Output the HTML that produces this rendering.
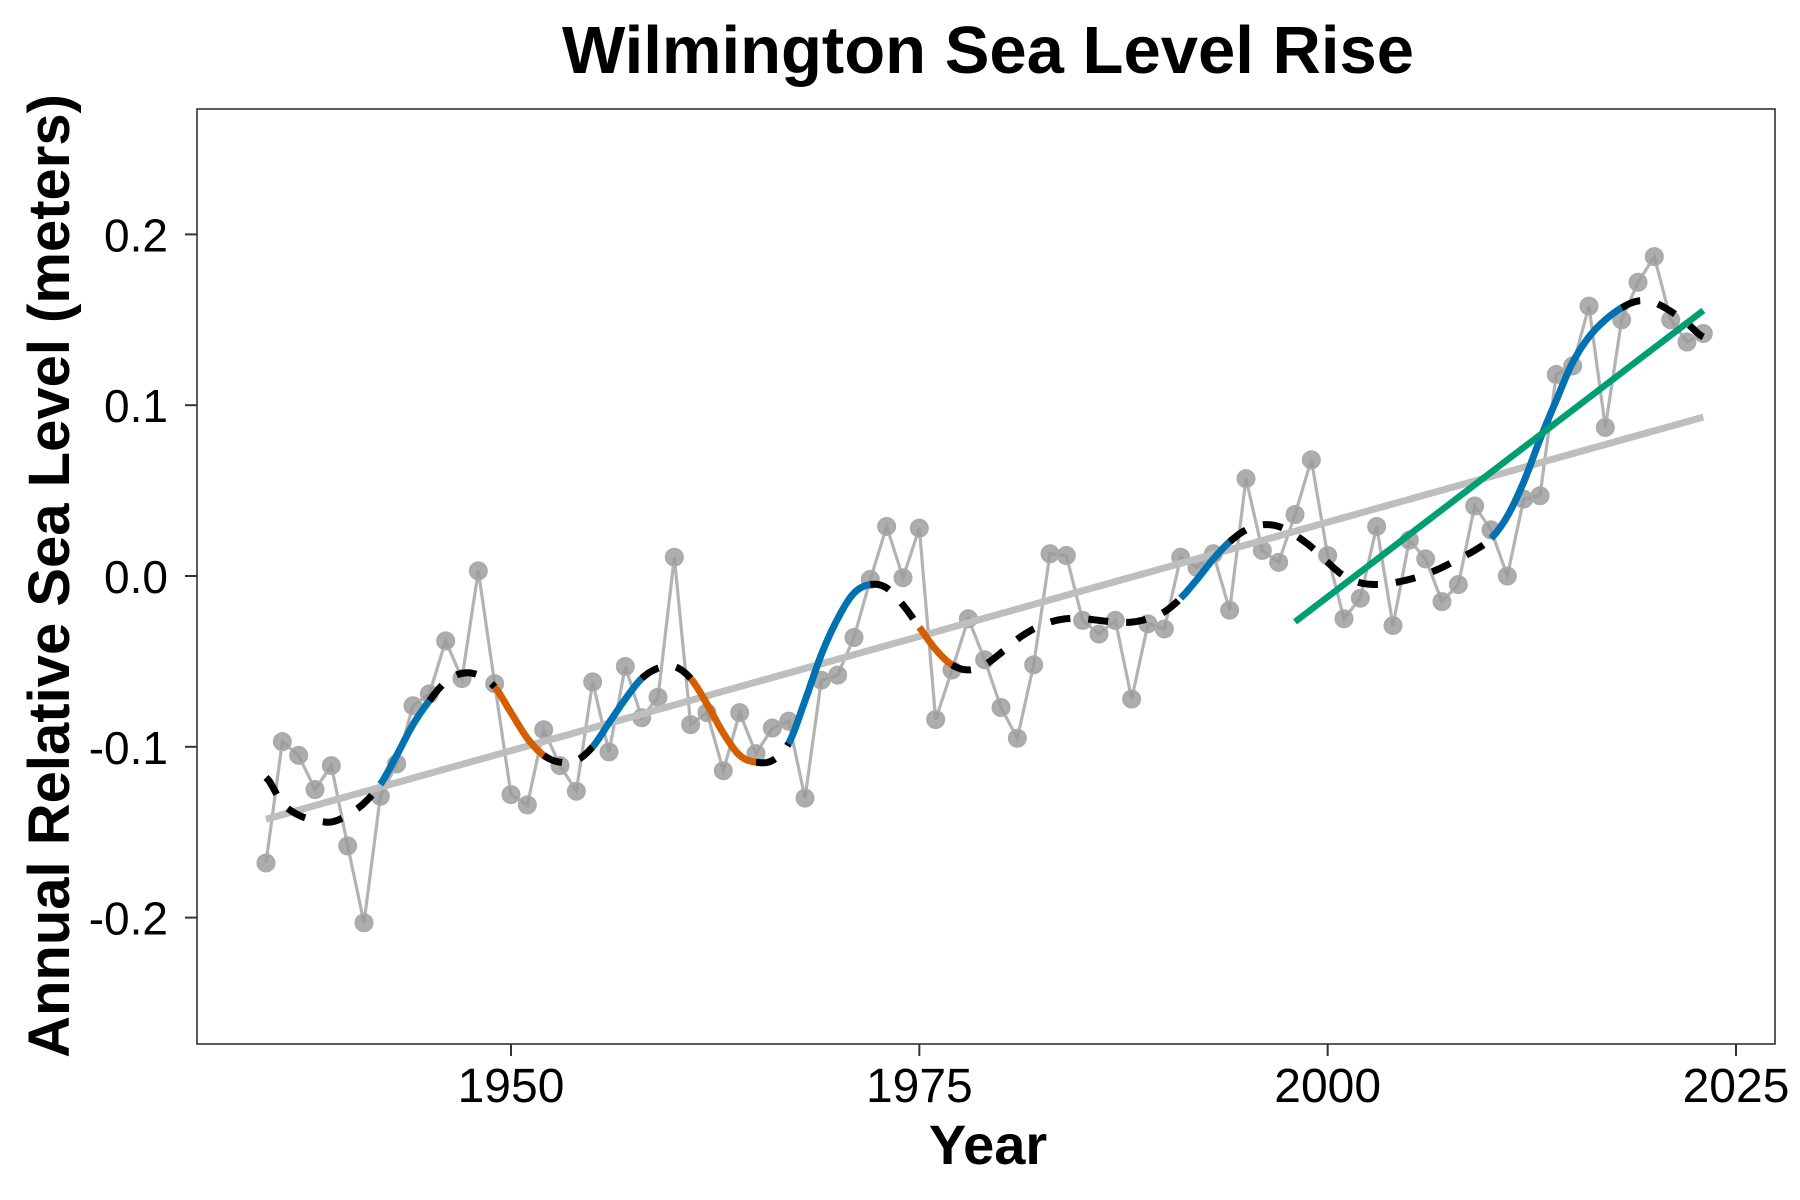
<!DOCTYPE html>
<html><head><meta charset="utf-8">
<style>
html,body{margin:0;padding:0;background:#fff;}
svg{display:block;font-family:"Liberation Sans",Arial,sans-serif;}
</style></head>
<body>
<svg id="chart" width="1800" height="1200" viewBox="0 0 1800 1200">
  <text x="988" y="73" text-anchor="middle" font-size="67" font-weight="bold">Wilmington Sea Level Rise</text>
  <rect x="197" y="109" width="1578" height="935" fill="none" stroke="#333" stroke-width="1.6"/>
  <g id="axes"></g>
  <g id="marks"></g>
  <text x="988" y="1164" text-anchor="middle" font-size="56" font-weight="bold">Year</text>
  <text transform="translate(69,576) rotate(-90)" text-anchor="middle" font-size="58" font-weight="bold">Annual Relative Sea Level (meters)</text>
</svg>
<script>
const years = [];
for (let y = 1935; y <= 2023; y++) years.push(y);
const seaLevel = [-0.168,-0.097,-0.105,-0.125,-0.111,-0.158,-0.203,-0.129,-0.110,-0.076,
-0.069,-0.038,-0.060,0.003,-0.063,-0.128,-0.134,-0.090,-0.111,-0.126,
-0.062,-0.103,-0.053,-0.083,-0.071,0.011,-0.087,-0.080,-0.114,-0.080,
-0.104,-0.089,-0.085,-0.130,-0.061,-0.058,-0.036,-0.002,0.029,-0.001,
0.028,-0.084,-0.055,-0.025,-0.049,-0.077,-0.095,-0.052,0.013,0.012,
-0.026,-0.034,-0.026,-0.072,-0.028,-0.031,0.011,0.005,0.013,-0.020,
0.057,0.015,0.008,0.036,0.068,0.012,-0.025,-0.013,0.029,-0.029,
0.021,0.010,-0.015,-0.005,0.041,0.027,0.000,0.045,0.047,0.118,
0.123,0.158,0.087,0.150,0.172,0.187,0.150,0.137,0.142];
const smooth = [-0.118,-0.133,-0.140,-0.143,-0.144,-0.140,-0.133,-0.122,-0.105,-0.087,
-0.073,-0.062,-0.057,-0.058,-0.065,-0.080,-0.095,-0.105,-0.109,-0.108,
-0.100,-0.086,-0.072,-0.060,-0.054,-0.053,-0.060,-0.075,-0.092,-0.105,
-0.109,-0.108,-0.098,-0.073,-0.046,-0.025,-0.010,-0.005,-0.007,-0.017,
-0.030,-0.043,-0.052,-0.055,-0.052,-0.045,-0.037,-0.031,-0.027,-0.025,
-0.025,-0.026,-0.027,-0.027,-0.025,-0.021,-0.013,-0.002,0.010,0.020,
0.027,0.030,0.029,0.024,0.017,0.008,0.000,-0.004,-0.005,-0.004,
-0.002,0.001,0.005,0.010,0.015,0.022,0.035,0.055,0.080,0.103,
0.125,0.140,0.150,0.157,0.161,0.160,0.155,0.148,0.140];
const upYears = [1942,1943,1944,1955,1956,1957,1967,1968,1969,1970,1971,1991,1992,1993,2010,2011,2012,2013,2014,2015,2016,2017];
const downYears = [1949,1950,1951,1961,1962,1963,1964,1975,1976];
const recentStart = 1998;
const xTicks = [1950,1975,2000,2025];
const yTicks = [0.2,0.1,0.0,-0.1,-0.2];
const yTickLabels = ["0.2","0.1","0.0","-0.1","-0.2"];

const NS = "http://www.w3.org/2000/svg";
const xs = y => 511 + (y - 1950) * (1225 / 75);
const ys = v => 576 - v * 1708;
function mk(tag, attrs, parent) {
  const e = document.createElementNS(NS, tag);
  for (const k in attrs) e.setAttribute(k, attrs[k]);
  parent.appendChild(e);
  return e;
}
const axes = document.getElementById('axes');
const marks = document.getElementById('marks');

xTicks.forEach(t => {
  const l = mk('line', {x1: xs(t), x2: xs(t), y1: 1044, y2: 1056, stroke: '#333', 'stroke-width': 2}, axes);
  
  
  const tx = mk('text', {x: xs(t), y: 1102, 'text-anchor': 'middle', 'font-size': 48, fill: '#000'}, axes);
  tx.textContent = t;
  
  
});
yTicks.forEach((t, i) => {
  const l = mk('line', {x1: 185, x2: 197, y1: ys(t), y2: ys(t), stroke: '#333', 'stroke-width': 2}, axes);
  
  
  const tx = mk('text', {x: 168, y: ys(t) + 17, 'text-anchor': 'end', 'font-size': 46, fill: '#000'}, axes);
  tx.textContent = yTickLabels[i];
  
  
});

const obs = mk('polyline', {points: years.map((y, i) => xs(y) + ',' + ys(seaLevel[i])).join(' '),
  fill: 'none', stroke: '#b3b3b3', 'stroke-width': 3.2}, marks);



years.forEach((y, i) => {
  const c = mk('circle', {cx: xs(y), cy: ys(seaLevel[i]), r: 8.5, fill: '#999', 'fill-opacity': 0.8, stroke: '#aaa', 'stroke-width': 2}, marks);
  
  
});

function fit(x0) {
  const xv = [], yv = [];
  years.forEach((y, i) => { if (y >= x0) { xv.push(y); yv.push(seaLevel[i]); } });
  const n = xv.length, mx = xv.reduce((a, b) => a + b) / n, my = yv.reduce((a, b) => a + b) / n;
  let sxy = 0, sxx = 0;
  for (let i = 0; i < n; i++) { sxy += (xv[i] - mx) * (yv[i] - my); sxx += (xv[i] - mx) ** 2; }
  const b = sxy / sxx; return {a: my - b * mx, b, x0: xv[0], x1: xv[n - 1]};
}
const full = fit(years[0]);
const fl = mk('line', {x1: xs(full.x0), y1: ys(full.a + full.b * full.x0), x2: xs(full.x1), y2: ys(full.a + full.b * full.x1),
  stroke: '#bebebe', 'stroke-width': 7}, marks);



function cls(y) { return upYears.includes(y) ? 'up' : downYears.includes(y) ? 'down' : 'none'; }
function cr(i, t) {
  const p0 = smooth[Math.max(i - 1, 0)], p1 = smooth[i], p2 = smooth[Math.min(i + 1, smooth.length - 1)], p3 = smooth[Math.min(i + 2, smooth.length - 1)];
  const t2 = t * t, t3 = t2 * t;
  return 0.5 * (2 * p1 + (-p0 + p2) * t + (2 * p0 - 5 * p1 + 4 * p2 - p3) * t2 + (-p0 + 3 * p1 - 3 * p2 + p3) * t3);
}
let runs = [];
for (let i = 0; i < years.length - 1; i++) {
  const c = cls(years[i]);
  if (!runs.length || runs[runs.length - 1].c !== c) runs.push({c, idx: []});
  runs[runs.length - 1].idx.push(i);
}
const colors = {up: '#0072B2', down: '#D55E00', none: '#000'};
runs.forEach(r => {
  const pts = [];
  r.idx.forEach((i, k) => {
    for (let s = (k === 0 ? 0 : 1); s <= 10; s++) {
      const t = s / 10;
      pts.push(xs(years[i] + t).toFixed(1) + ',' + ys(cr(i, t)).toFixed(1));
    }
  });
  const attrs = {points: pts.join(' '), fill: 'none', stroke: colors[r.c], 'stroke-width': 7};
  if (r.c === 'none') attrs['stroke-dasharray'] = '20,18';
  const p = mk('polyline', attrs, marks);
  
  
});

const rec = fit(recentStart);
const gl = mk('line', {x1: xs(rec.x0), y1: ys(rec.a + rec.b * rec.x0), x2: xs(rec.x1), y2: ys(rec.a + rec.b * rec.x1),
  stroke: '#009E73', 'stroke-width': 6.5}, marks);


</script>
</body></html>
